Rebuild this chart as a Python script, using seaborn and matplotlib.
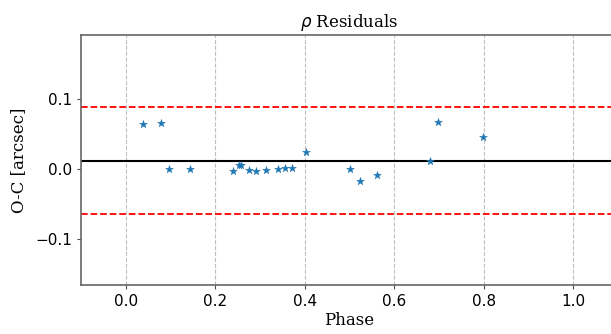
import numpy as np
import pandas as pd
import matplotlib
matplotlib.use("Agg")
import matplotlib.pyplot as plt
import seaborn as sns

phase = [0.039, 0.079, 0.0965, 0.143, 0.240, 0.252, 0.258, 0.276, 0.292, 0.313,
         0.340, 0.356, 0.371, 0.403, 0.502, 0.523, 0.562, 0.680, 0.697, 0.798]
residual = [0.0647, 0.066, 0.0, 0.0, -0.0015, 0.0057, 0.0057, -0.001, -0.0015, -0.001,
            0.001, 0.002, 0.002, 0.0247, 0.0, -0.0167, -0.0086, 0.0119, 0.0671, 0.0457]
mean_level = 0.0127
upper_limit = 0.0894
lower_limit = -0.0634
xticks = [0.0, 0.2, 0.4, 0.6, 0.8, 1.0]
yticks = [-0.1, 0.0, 0.1]

df = pd.DataFrame({"Phase": phase, "Residual": residual})

sns.set_style("white")
plt.rcParams["font.family"] = ["DejaVu Sans"]
plt.rcParams["text.color"] = "black"
plt.rcParams["axes.labelcolor"] = "black"

fig = plt.figure(figsize=(6.11, 3.34), dpi=100)
ax = fig.add_axes([81 / 611, 1 - 285 / 334, (618 - 81) / 611, (285 - 35) / 334])

ax.grid(True, axis="x", linestyle="--", color="0.75", linewidth=0.8)
ax.set_axisbelow(True)

sns.scatterplot(data=df, x="Phase", y="Residual", marker="*", s=35,
                color="#1f77b4", edgecolor="#1f77b4", linewidth=0.3, ax=ax, zorder=3)
ax.axhline(mean_level, color="black", linewidth=1.5, zorder=2)
ax.axhline(upper_limit, color="red", linestyle="--", linewidth=1.3, zorder=2)
ax.axhline(lower_limit, color="red", linestyle="--", linewidth=1.3, zorder=2)

ax.set_xlim(-0.1, 1.1)
ax.set_ylim(-0.165, 0.192)
ax.set_xticks(xticks)
ax.set_yticks(yticks)
ax.tick_params(axis="both", labelsize=11, length=3, width=0.8, color="0.3", direction="out",
               bottom=True, left=True, labelcolor="black")
for sp in ax.spines.values():
    sp.set_color("0.4")
    sp.set_linewidth(1.2)

ax.set_title(r"$\rho$ Residuals", family="DejaVu Serif", fontsize=12, pad=6, color="black")
ax.set_xlabel("Phase", family="DejaVu Serif", fontsize=12, labelpad=2)
ax.set_ylabel("O-C [arcsec]", family="DejaVu Serif", fontsize=12, labelpad=6)

fig.savefig("out.png", dpi=100)
